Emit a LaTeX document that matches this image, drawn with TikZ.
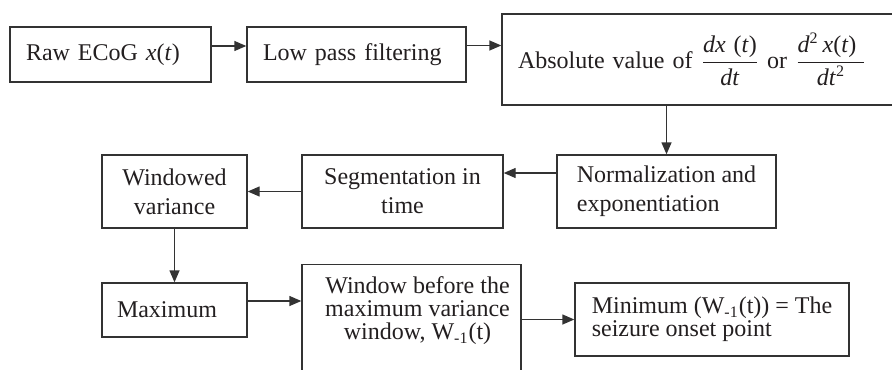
\documentclass[tikz,border=0pt]{standalone}
\usepackage{fontspec}
\usepackage{amsmath}
\setmainfont{Liberation Serif}
\usetikzlibrary{arrows.meta}
\definecolor{ink}{HTML}{333333}
\definecolor{txt}{HTML}{231F20}
\lineskiplimit=-20pt
\begin{document}
\begin{tikzpicture}[x=0.5pt,y=-0.5pt,
  box/.style={draw=ink, line width=0.7pt, rectangle, inner sep=0pt, text=txt,
    font=\fontsize{12}{14.5}\selectfont},
  tight/.style={font=\fontsize{12}{11.5}\selectfont},
  arr/.style={draw=ink, line width=0.7pt, -{Triangle[length=6pt,width=5pt]}}]
\fill[white] (0,0) rectangle (892,369);
\useasboundingbox (0,0) rectangle (892,369);
\clip (0,0) rectangle (892,369);

\node[box, minimum width=100.5pt, minimum height=27.5pt, text width=84.5pt, align=left]
  (raw) at (110.5,54.5) {Raw ECoG \textit{x}(\textit{t})};
\node[box, minimum width=109.5pt, minimum height=27.5pt, text width=93.5pt, align=left]
  (low) at (356.5,54.5) {Low pass filtering};
\node[box, minimum width=199pt, minimum height=45.5pt, text width=183pt, align=left]
  (abs) at (701,59.5) {Absolute value of $\dfrac{\mbox{\textit{dx} (\textit{t})}}{\mbox{\textit{dt}}}$ or\hspace{4pt}$\dfrac{\mbox{\textit{d}\textsuperscript{2}\,\textit{x}(\textit{t})\hspace{4pt}}}{\mbox{\textit{dt}\textsuperscript{2}}}$};
\node[box, minimum width=109.5pt, minimum height=36.5pt, align=left]
  (norm) at (666.5,191.5) {Normalization and\\exponentiation};
\node[box, minimum width=100.5pt, minimum height=36.5pt, align=center]
  (seg) at (402.5,191.5) {Segmentation in\\time};
\node[box, minimum width=72.5pt, minimum height=36.5pt, align=center]
  (wvar) at (174.5,191.5) {Windowed\\variance};
\node[box, minimum width=72.5pt, minimum height=27pt, text width=57.5pt, align=left]
  (max) at (174.5,310) {Maximum};
\node[box, tight, anchor=north, minimum width=109.5pt, inner ysep=6pt, text depth=20pt, align=center]
  (win) at (411.5,264) {\kern6pt Window before the\\\kern6pt maximum variance\\\kern6pt window, W\textsubscript{-1}(t)};
\node[box, tight, minimum width=137pt, minimum height=36.5pt, align=left]
  (minp) at (712,319.5) {Minimum (W\textsubscript{-1}(t)) = The\\seizure onset point};

\draw[arr] ([yshift=4.25pt]raw.east) coordinate (a1) -- (a1 -| low.west);
\draw[arr] ([yshift=4.5pt]low.east) coordinate (a2) -- (a2 -| abs.west);
\draw[arr] (abs.south -| norm.north) -- (norm.north);
\draw[arr] ([yshift=9.25pt]norm.west) coordinate (a3) -- (a3 -| seg.east);
\draw[arr] (seg.west) -- (wvar.east);
\draw[arr] (wvar.south) -- (max.north);
\draw[arr] ([yshift=4.5pt]max.east) coordinate (a4) -- (a4 -| win.west);
\draw[arr] (minp.west -| win.east) -- (minp.west);
\end{tikzpicture}
\end{document}
